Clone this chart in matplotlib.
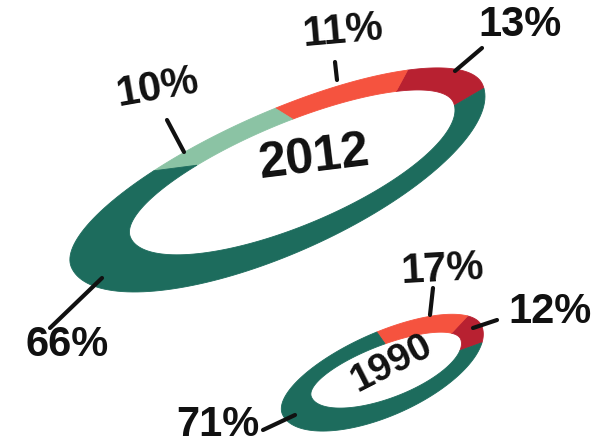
import numpy as np
import matplotlib
matplotlib.use("Agg")
import matplotlib.pyplot as plt
from matplotlib.patches import Polygon

# ---------------- data ----------------
segments = ["Segment A", "Segment B", "Segment C", "Segment D"]
years = ["2012", "1990"]
share_2012 = [13, 11, 10, 66]
share_1990 = [12, 17, 0, 71]
labels_2012 = ["13%", "11%", "10%", "66%"]
labels_1990 = ["12%", "17%", "", "71%"]

# ---------------- style / layout ----------------
colors = ["#b82131", "#f5533f", "#8bc3a4", "#1d6c5d"]

# ring geometry in pixel space: (centre, tilt, a, b_top, b_bottom)
geom = {
    "2012": dict(outer=((277, 176), 24.0, 225, 63, 78),
                 inner=((292, 170), 22.6, 175, 47, 56),
                 start=-3.0),
    "1990": dict(outer=((382, 370), 24.0, 109, 37, 46),
                 inner=((386, 368), 21.0, 80, 23, 30),
                 start=-20.0),
}
year_pos = {"2012": ((314, 158), 7), "1990": ((392, 363), 27)}
label_layout = {
    "2012": [((520, 25), 0, (482, 48), (455, 71)),
             ((343, 32), 5, (335, 62), (337, 80)),
             ((157, 88), 10, (167, 120), (184, 152)),
             ((67, 345), 0, (102, 278), (50, 328))],
    "1990": [((550, 312), 0, (497, 320), (473, 328)),
             ((442, 270), 3, (433, 288), (430, 315)),
             None,
             ((218, 425), 0, (263, 430), (295, 415))],
}

FONT = ["Liberation Sans", "DejaVu Sans"]

fig = plt.figure(figsize=(6.08, 4.48), dpi=100)
fig.patch.set_facecolor("white")
ax = fig.add_axes([0, 0, 1, 1])
ax.set_xlim(0, 608)
ax.set_ylim(448, 0)
ax.axis("off")


def ellipse_pts(t, spec):
    (cx, cy), theta, a, btop, bbot = spec
    th = np.radians(theta)
    e1 = np.array([np.cos(th), -np.sin(th)])
    e2 = np.array([-np.sin(th), -np.cos(th)])
    b = np.where(np.sin(t) >= 0, btop, bbot)
    x = cx + a * np.cos(t) * e1[0] + b * np.sin(t) * e2[0]
    y = cy + a * np.cos(t) * e1[1] + b * np.sin(t) * e2[1]
    return x, y


def draw_ring(year, values, labels):
    g = geom[year]
    total = float(sum(values))
    cum = np.concatenate([[0], np.cumsum(values)]) / total
    t0 = np.radians(g["start"])
    for i, v in enumerate(values):
        if v <= 0:
            continue
        t = t0 + 2 * np.pi * np.linspace(cum[i], cum[i + 1], 120)
        xo, yo = ellipse_pts(t, g["outer"])
        xi, yi = ellipse_pts(t[::-1], g["inner"])
        poly = Polygon(np.column_stack([np.concatenate([xo, xi]),
                                        np.concatenate([yo, yi])]),
                       closed=True, facecolor=colors[i],
                       edgecolor=colors[i], linewidth=0.6)
        ax.add_patch(poly)
        lay = label_layout[year][i]
        if lay is None or not labels[i]:
            continue
        (tx, ty), rot, p1, p2 = lay
        ax.plot([p1[0], p2[0]], [p1[1], p2[1]], color="#111111",
                lw=3.0, solid_capstyle="round", zorder=5)
        ax.text(tx, ty, labels[i], ha="center", va="center",
                fontsize=30, fontweight="bold", family=FONT,
                rotation=rot, color="#111111", zorder=6)
    (yx, yy), yrot = year_pos[year]
    ax.text(yx, yy, year, ha="center", va="center",
            fontsize=36 if year == "2012" else 28, fontweight="bold",
            family=FONT, rotation=yrot, color="#111111", zorder=6)


draw_ring("2012", share_2012, labels_2012)
draw_ring("1990", share_1990, labels_1990)

fig.savefig("out.png", dpi=100, facecolor="white")
